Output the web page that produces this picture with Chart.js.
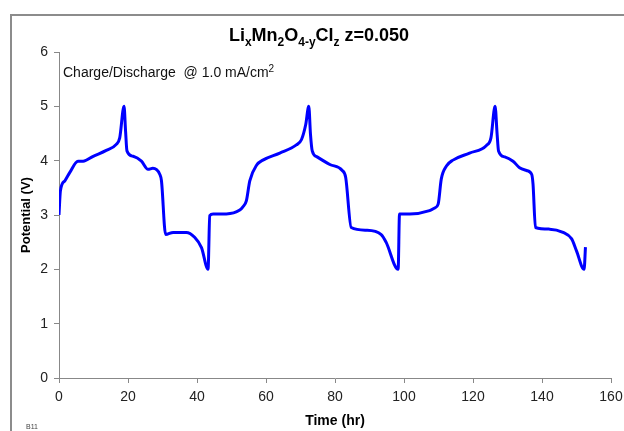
<!DOCTYPE html>
<html>
<head>
<meta charset="utf-8">
<script src="https://cdn.jsdelivr.net/npm/chart.js@4"></script>
<style>
  html, body { margin: 0; padding: 0; background: #fff; }
  #wrap { width: 624px; height: 431px; position: relative; }
</style>
</head>
<body>
<div id="wrap"><canvas id="cycleChart"></canvas></div>
<script>
// time (hr) and potential (V)
const timeHr = [
  0, 0.4, 1.7, 3.1, 5.5, 7.0, 9.9, 13.7, 16.6, 17.6, 18.85, 19.3, 19.7, 21.5, 23.9, 25.8, 27.2, 29.2, 29.7,
  30.9, 33.1, 36.9, 39.3, 41.3, 43.2, 43.7, 44.7, 48.5, 52.4, 53.3, 54.3, 55.3, 57.3, 59.1, 64.0, 68.8,
  70.3, 71.5, 72.4, 72.9, 73.4, 74.8, 78.5, 82.1, 83.1, 84.7, 89.1, 93.4, 94.8, 98.3, 98.7, 101.7, 107.4,
  108.9, 109.9, 110.8, 112.3, 114.2, 119.0, 123.9, 125.2, 126.4, 127.0, 127.4, 129.2, 131.6, 133.5,
  135.5, 137.0, 137.4, 138.1, 142.2, 146.1, 148.6, 150.0, 152.2, 152.6
];
const potentialV = [
  3.0, 3.44, 3.63, 3.78, 3.99, 3.99, 4.08, 4.19, 4.30, 4.42, 5.0, 4.54, 4.18, 4.08, 3.99, 3.84, 3.86, 3.75, 3.63,
  2.64, 2.68, 2.68, 2.59, 2.40, 2.0, 2.99, 3.02, 3.02, 3.09, 3.15, 3.26, 3.63, 3.92, 4.01, 4.14, 4.29,
  4.39, 4.66, 5.0, 4.48, 4.18, 4.07, 3.93, 3.82, 3.69, 2.77, 2.72, 2.64, 2.50, 2.0, 3.02, 3.02, 3.08,
  3.13, 3.20, 3.66, 3.90, 4.01, 4.14, 4.28, 4.42, 5.0, 4.48, 4.18, 4.07, 3.99, 3.87,
  3.82, 3.75, 3.57, 2.77, 2.74, 2.68, 2.56, 2.34, 2.0, 2.41
];

const xTicks = [0, 20, 40, 60, 80, 100, 120, 140, 160];
const yTicks = [0, 1, 2, 3, 4, 5, 6];

const points = timeHr.map((t, i) => ({ x: t, y: potentialV[i] }));

// draws a run of [text, shift] pieces, shift: 0 normal, 1 sub, -1 sup
function drawPieces(ctx, pieces, x, y, size, weight, align) {
  const big = weight + ' ' + size + 'px "Liberation Sans", Arial, sans-serif';
  const small = weight + ' ' + Math.round(size * 0.68) + 'px "Liberation Sans", Arial, sans-serif';
  let total = 0;
  pieces.forEach(p => {
    ctx.font = p[1] ? small : big;
    total += ctx.measureText(p[0]).width;
  });
  let cx = align === 'center' ? x - total / 2 : x;
  ctx.textAlign = 'left';
  ctx.textBaseline = 'alphabetic';
  pieces.forEach(p => {
    ctx.font = p[1] ? small : big;
    const dy = p[1] === 1 ? size * 0.28 : (p[1] === -1 ? -size * 0.38 : 0);
    ctx.fillText(p[0], cx, y + dy);
    cx += ctx.measureText(p[0]).width;
  });
}

const decorations = {
  id: 'decorations',
  beforeDraw(chart) {
    const ctx = chart.ctx;
    ctx.save();
    ctx.strokeStyle = '#8c8c8c';
    ctx.lineWidth = 2;
    ctx.strokeRect(11, 15, 700, 500);
    ctx.restore();
  },
  afterDraw(chart) {
    const ctx = chart.ctx;
    ctx.save();
    ctx.fillStyle = '#000';
    drawPieces(ctx, [['Li', 0], ['x', 1], ['Mn', 0], ['2', 1], ['O', 0], ['4-y', 1], ['Cl', 0], ['z', 1], [' z=0.050', 0]],
      319, 41, 18, 'bold', 'center');
    ctx.fillStyle = '#111';
    drawPieces(ctx, [['Charge/Discharge  @ 1.0 mA/cm', 0], ['2', -1]], 63, 77, 14, 'normal', 'left');
    ctx.font = '7px "Liberation Sans", Arial, sans-serif';
    ctx.fillStyle = '#444';
    ctx.fillText('B11', 26, 429);
    ctx.restore();
  }
};

new Chart(document.getElementById('cycleChart'), {
  type: 'scatter',
  data: {
    datasets: [{
      data: points,
      showLine: true,
      borderColor: '#0000ff',
      borderWidth: 3,
      pointRadius: 0,
      cubicInterpolationMode: 'monotone',
      fill: false
    }]
  },
  options: {
    responsive: true,
    maintainAspectRatio: false,
    animation: false,
    layout: { padding: { left: 0, top: 52, right: 13, bottom: 0 } },
    plugins: {
      legend: { display: false },
      tooltip: { enabled: false }
    },
    scales: {
      x: {
        type: 'linear',
        min: 0,
        max: 160,
        afterBuildTicks: s => { s.ticks = xTicks.map(v => ({ value: v })); },
        afterFit: s => { s.height = 53; s.paddingLeft = 0; s.paddingRight = 0; },
        border: { color: '#888', width: 1 },
        grid: { display: true, drawOnChartArea: false, tickLength: 5, color: '#888' },
        ticks: { color: '#222', padding: 6, maxRotation: 0, font: { size: 14, family: '"Liberation Sans", Arial' } },
        title: { display: true, text: 'Time (hr)', color: '#000', padding: { top: 4, bottom: 1 }, font: { size: 14, weight: 'bold', family: '"Liberation Sans", Arial' } }
      },
      y: {
        min: 0,
        max: 6,
        afterBuildTicks: s => { s.ticks = yTicks.map(v => ({ value: v })); },
        afterFit: s => { s.width = 59; s.paddingTop = 0; s.paddingBottom = 0; },
        border: { color: '#888', width: 1 },
        grid: { display: true, drawOnChartArea: false, tickLength: 5, color: '#888' },
        ticks: { color: '#222', padding: 6, font: { size: 14, family: '"Liberation Sans", Arial' } },
        title: { display: true, text: 'Potential (V)', color: '#000', padding: { top: 19, bottom: 0 }, font: { size: 13, weight: 'bold', family: '"Liberation Sans", Arial' } }
      }
    }
  },
  plugins: [decorations]
});
</script>
</body>
</html>
